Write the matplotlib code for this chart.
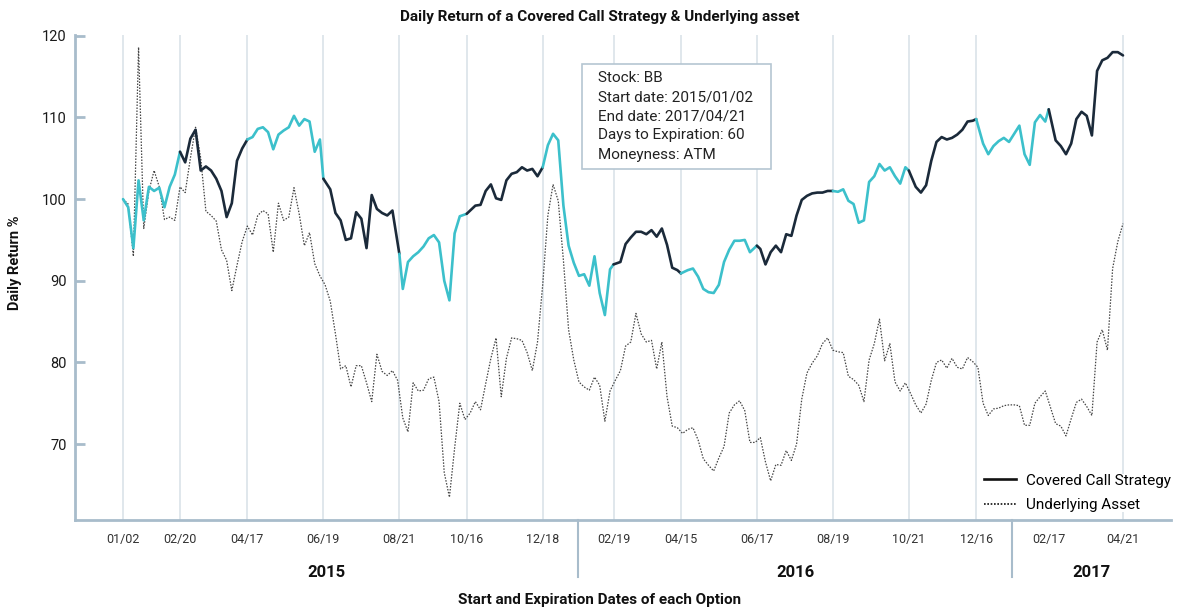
import numpy as np
import pandas as pd
import matplotlib
matplotlib.use('Agg')
import matplotlib.pyplot as plt
from matplotlib.lines import Line2D
from matplotlib.patches import Rectangle
import matplotlib.transforms as mtransforms

plt.rcParams['font.family'] = ['Roboto', 'DejaVu Sans']

# ---------------- data ----------------
title = "Daily Return of a Covered Call Strategy & Underlying asset"
x_label = "Start and Expiration Dates of each Option"
y_label = "Daily Return %"
info_lines = ["Stock: BB", "Start date: 2015/01/02", "End date: 2017/04/21",
              "Days to Expiration: 60", "Moneyness: ATM"]
legend_labels = ["Covered Call Strategy", "Underlying Asset"]

market_holidays = ['2015-01-19', '2015-02-16', '2015-04-03', '2015-05-25', '2015-07-03',
                   '2015-09-07', '2015-11-26', '2015-12-25', '2016-01-01', '2016-01-18',
                   '2016-02-15', '2016-03-25', '2016-05-30', '2016-07-04', '2016-09-05',
                   '2016-11-24', '2016-12-26', '2017-01-02', '2017-01-16', '2017-02-20',
                   '2017-04-14']
expiry_dates = ['2015-01-02', '2015-02-20', '2015-04-17', '2015-06-19', '2015-08-21',
                '2015-10-16', '2015-12-18', '2016-02-19', '2016-04-15', '2016-06-17',
                '2016-08-19', '2016-10-21', '2016-12-16', '2017-02-17', '2017-04-21']
expiries_without_gridline = ['2017-02-17']
sample_step = 3   # one value every 3 trading days

covered_call = [
    100.0, 99.0, 94.0, 102.3, 97.4, 101.5, 101.0, 101.4, 99.0, 101.5,
    103.0, 105.8, 104.5, 107.4, 108.5, 103.5, 104.0, 103.5, 102.5, 101.0,
    97.8, 99.5, 104.7, 106.2, 107.3, 107.6, 108.6, 108.8, 108.2, 106.1,
    107.9, 108.4, 108.8, 110.2, 109.0, 109.8, 109.5, 105.8, 107.3, 102.5,
    101.2, 98.3, 97.4, 95.0, 95.2, 98.4, 97.6, 94.0, 100.5, 98.8,
    98.3, 98.0, 98.6, 93.3, 89.0, 92.3, 93.0, 93.5, 94.2, 95.2,
    95.6, 94.7, 90.0, 87.6, 95.8, 97.9, 98.2, 98.6, 99.2, 99.3,
    101.0, 101.8, 100.1, 99.9, 102.3, 103.1, 103.3, 103.9, 103.5, 103.7,
    102.8, 103.9, 106.6, 108.0, 107.2, 99.2, 94.3, 92.2, 90.6, 90.8,
    89.4, 93.0, 88.5, 85.8, 91.4, 92.0, 92.3, 94.5, 95.3, 96.0,
    96.0, 95.7, 96.2, 95.4, 96.4, 94.4, 91.6, 91.3, 90.9, 91.3,
    91.5, 90.5, 89.0, 88.6, 88.5, 89.5, 92.3, 93.8, 94.9, 94.9,
    95.0, 93.5, 94.3, 93.9, 92.0, 93.5, 94.3, 93.5, 95.7, 95.5,
    98.0, 99.9, 100.4, 100.7, 100.8, 100.8, 101.0, 101.0, 100.9, 101.2,
    99.8, 99.4, 97.1, 97.4, 102.1, 102.8, 104.3, 103.5, 103.9, 102.8,
    101.9, 103.9, 103.5, 101.5, 100.8, 101.7, 104.7, 107.0, 107.6, 107.3,
    107.5, 107.9, 108.5, 109.5, 109.6, 109.8, 106.8, 105.5, 106.5, 107.1,
    107.5, 107.0, 108.0, 109.0, 105.5, 104.2, 109.4, 110.3, 109.5, 111.0,
    107.2, 106.5, 105.5, 106.8, 109.8, 110.7, 110.2, 107.8, 115.7, 117.0,
    117.3, 118.0, 118.0, 117.6]

underlying = [
    100.0, 99.4, 93.0, 118.6, 96.4, 101.0, 103.5, 101.5, 97.5, 97.8,
    97.4, 101.5, 100.8, 105.0, 108.8, 105.0, 98.5, 98.0, 97.3, 93.8,
    92.5, 88.8, 91.9, 94.8, 96.7, 95.6, 98.0, 98.6, 98.2, 93.5,
    99.5, 97.4, 97.8, 101.4, 98.2, 94.3, 95.9, 92.1, 90.6, 89.5,
    87.5, 83.5, 79.2, 79.6, 77.0, 79.6, 79.6, 77.5, 75.2, 81.0,
    78.9, 78.4, 79.0, 77.8, 73.2, 71.5, 77.5, 76.5, 76.6, 78.0,
    78.2, 75.2, 66.5, 63.5, 69.5, 75.0, 73.0, 73.8, 75.2, 74.2,
    77.4, 80.5, 83.0, 75.8, 80.5, 83.0, 82.9, 82.7, 81.2, 79.0,
    82.5, 89.5, 98.0, 101.8, 99.8, 92.5, 84.0, 80.3, 77.6, 77.0,
    76.6, 78.2, 77.2, 72.8, 76.5, 77.8, 79.0, 82.0, 82.5, 86.0,
    83.5, 82.5, 82.7, 79.2, 82.5, 75.8, 72.2, 72.0, 71.3, 71.8,
    72.0, 70.5, 68.2, 67.4, 66.7, 68.3, 69.7, 73.8, 74.8, 75.3,
    74.1, 70.2, 70.2, 70.8, 67.8, 65.5, 67.5, 67.4, 69.2, 68.0,
    70.0, 75.5, 78.7, 79.9, 80.8, 82.3, 83.0, 81.5, 81.3, 81.2,
    78.3, 77.9, 77.2, 75.2, 80.3, 82.3, 85.3, 80.2, 82.3, 77.6,
    76.5, 77.5, 76.2, 74.8, 73.8, 74.9, 77.8, 80.0, 80.3, 79.3,
    80.5, 79.4, 79.2, 80.6, 80.1, 79.4, 75.0, 73.5, 74.3, 74.4,
    74.7, 74.8, 74.8, 74.7, 72.3, 72.3, 75.0, 75.8, 76.5, 74.5,
    72.5, 72.2, 71.0, 73.1, 75.1, 75.5, 74.6, 73.5, 82.5, 84.0,
    81.5, 91.5, 94.8, 97.0]

y_ticks = [70, 80, 90, 100, 110, 120]

# ---------------- styling ----------------
TEAL = '#3cc0cb'
NAVY = '#1b2a3a'
SPINE = '#a8bccb'
GRID = '#dde5eb'

trading_days = pd.bdate_range('2015-01-02', '2017-04-21', freq='C', holidays=market_holidays)
day_pos = np.arange(len(trading_days))
sample_x = day_pos[::sample_step]
exp_ts = pd.to_datetime(expiry_dates)
expiry_pos = trading_days.get_indexer(exp_ts)

W, H = 1178, 610
fig = plt.figure(figsize=(W / 100, H / 100), dpi=100)
ax = fig.add_axes([75 / W, 90 / H, 1096 / W, 485 / H])

# vertical grid lines at expirations
for d, p in zip(expiry_dates, expiry_pos):
    if d not in expiries_without_gridline:
        ax.axvline(p, color=GRID, lw=1.3, zorder=0)

# underlying asset
ax.plot(sample_x[:len(underlying)], underlying, color='#444444', lw=0.9,
        linestyle=(0, (1.2, 1.2)), zorder=2)

# covered call, one colour per option period
cc = np.array(covered_call)
for j in range(len(expiry_pos) - 1):
    s, e = expiry_pos[j], expiry_pos[j + 1]
    ks, ke = int(round(s / sample_step)), int(round(e / sample_step))
    xs = sample_x[ks:ke + 1].astype(float).copy()
    xs[0], xs[-1] = s, e
    ax.plot(xs, cc[ks:ke + 1], color=TEAL if j % 2 == 0 else NAVY, lw=1.9,
            solid_joinstyle='round', solid_capstyle='round', zorder=3)

ax.set_xlim(-27.8, 606.8)
ax.set_ylim(60.7, 120.1)

for side in ['top', 'right']:
    ax.spines[side].set_visible(False)
for side in ['left', 'bottom']:
    ax.spines[side].set_color(SPINE)
    ax.spines[side].set_linewidth(2)

ax.set_yticks(y_ticks)
ax.set_yticklabels([str(v) for v in y_ticks])
ax.tick_params(axis='y', direction='in', length=7, width=2, color=SPINE,
               labelsize=10.5, labelcolor='#1a1a1a', pad=6)
ax.set_xticks(expiry_pos)
ax.set_xticklabels([d.strftime('%m/%d') for d in exp_ts])
ax.tick_params(axis='x', length=0, labelsize=9, labelcolor='#333333', pad=9)

# year separators and labels
trans = mtransforms.blended_transform_factory(ax.transData, ax.transAxes)
years = [d.year for d in exp_ts]
seps = []
for i in range(len(years) - 1):
    if years[i] != years[i + 1]:
        seps.append((expiry_pos[i] + expiry_pos[i + 1]) / 2)
for sx in seps:
    ax.add_line(Line2D([sx, sx], [0, -0.118], transform=trans, color=SPINE,
                       lw=1.5, clip_on=False))
xl = ax.get_xlim()
bounds = [xl[0]] + seps + [xl[1]]
uniq_years = sorted(set(years))
for yr, a, b in zip(uniq_years, bounds[:-1], bounds[1:]):
    ax.text((a + b) / 2, -0.108, str(yr), transform=trans, ha='center', va='center',
            fontsize=12, fontweight='bold', color='#111111')

# titles
fig.text(600 / W, 1 - 17 / H, title, ha='center', va='center', fontsize=11,
         fontweight='semibold', color='#111111')
fig.text(600 / W, 1 - 600 / H, x_label, ha='center', va='center', fontsize=11,
         fontweight='semibold', color='#111111')
fig.text(15 / W, 1 - 263 / H, y_label, ha='center', va='center', rotation=90,
         fontsize=10.5, fontweight='semibold', color='#111111')

# info box
fig.patches.append(Rectangle((581.7 / W, 1 - 169 / H), 189 / W, 105 / H,
                             transform=fig.transFigure, facecolor='white',
                             edgecolor='#b5c6d2', lw=1.2, zorder=5))
line_y = [78.3, 97.3, 116.7, 135.5, 154.5]
for t, yy in zip(info_lines, line_y):
    fig.text(597.7 / W, 1 - yy / H, t, ha='left', va='center', fontsize=11,
             color='#222222', zorder=6)

# legend
handles = [Line2D([], [], color='#111111', lw=1.9),
           Line2D([], [], color='#111111', lw=1.2, linestyle=(0, (1, 1)))]
leg = ax.legend(handles, legend_labels, loc='upper left',
                bbox_to_anchor=(976 / W, 1 - 466 / H), bbox_transform=fig.transFigure,
                fontsize=11, frameon=True, facecolor='white', edgecolor='none',
                framealpha=1, fancybox=False, handlelength=2.15, handletextpad=0.6,
                labelspacing=0.7, borderpad=0.0)
leg.set_zorder(10)

fig.savefig('out.png', dpi=100)
